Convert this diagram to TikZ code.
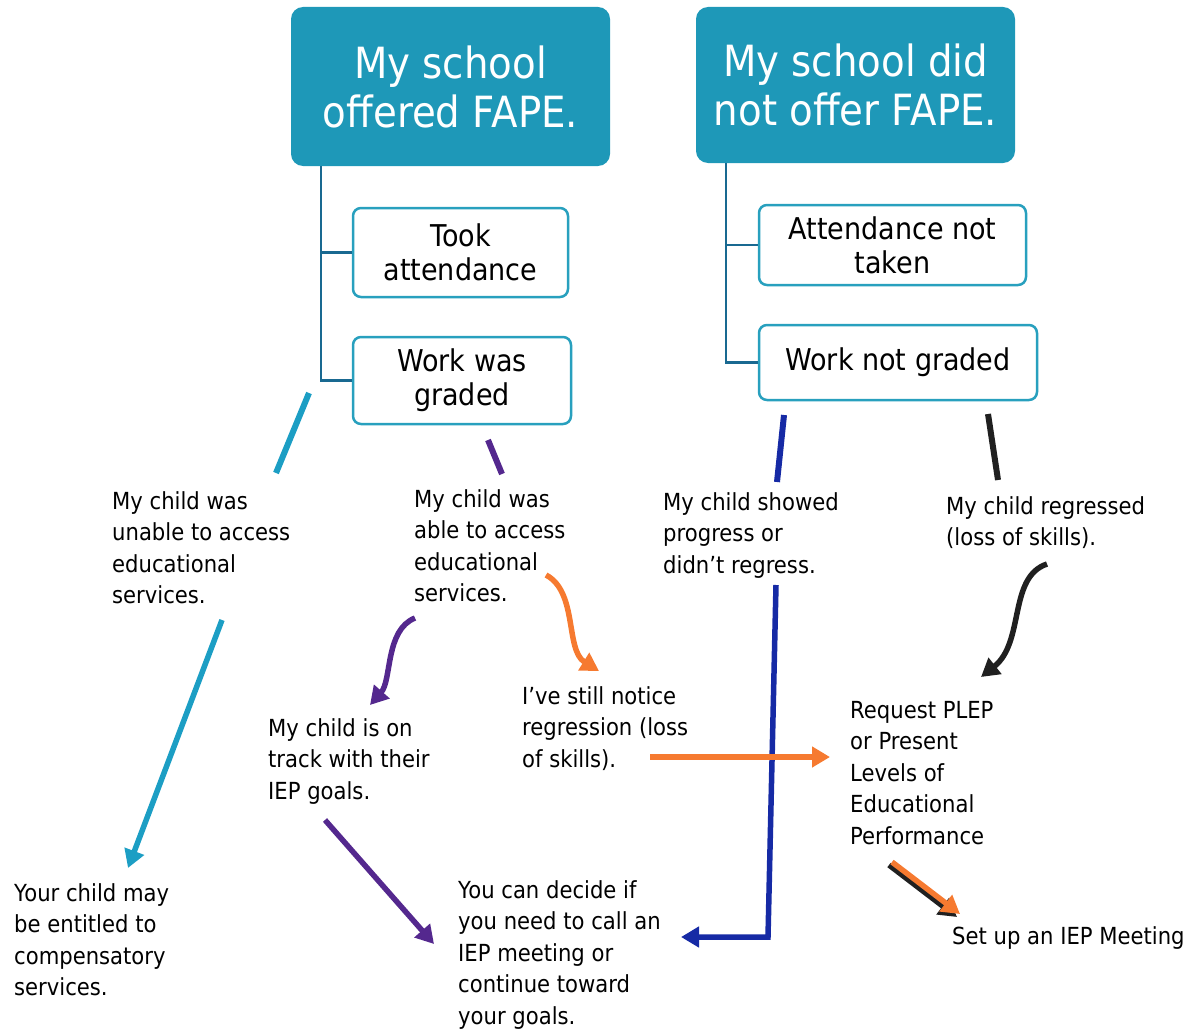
\documentclass[tikz,border=0pt]{standalone}
\usepackage{fontspec}
\setmainfont{DejaVu Sans}[FakeStretch=0.9]
\usetikzlibrary{arrows.meta}

\definecolor{headteal}{RGB}{30,152,184}
\definecolor{boxteal}{RGB}{40,160,190}
\definecolor{treeblue}{RGB}{25,105,145}
\definecolor{lineteal}{RGB}{28,158,196}
\definecolor{linepurple}{RGB}{84,40,142}
\definecolor{lineblue}{RGB}{22,42,165}
\definecolor{lineorange}{RGB}{246,122,48}
\definecolor{lineblack}{RGB}{32,32,32}

\tikzset{
  head/.style={rectangle, rounded corners=12pt, fill=headteal, text=white,
    align=center, minimum width=319pt, font=\fontsize{43}{49}\selectfont},
  check/.style={rectangle, rounded corners=8pt, draw=boxteal, line width=2.5pt,
    fill=white, align=center, font=\fontsize{30}{34}\selectfont},
  txt/.style={anchor=north west, inner sep=0pt, align=left,
    font=\fontsize{23.5}{31.5}\selectfont},
  tree/.style={draw=treeblue, line width=2.5pt},
  stroke/.style={line width=6pt},
  arr/.style={line width=5.5pt, -{Triangle[length=18pt,width=20pt]}},
}

\begin{document}
\begin{tikzpicture}[x=1pt,y=-1pt]
  \useasboundingbox (0,0) rectangle (1191,1030);

  % the two headings
  \node[head, minimum height=159pt] (offer)   at (450.5,86.5) {My school\\offered FAPE.};
  \node[head, minimum height=156pt] (nooffer) at (855.5,85)   {My school did\\not offer FAPE.};

  % what the school did or did not do
  \node[check, minimum width=215pt, minimum height=89pt] (took)      at (460.5,252.5) {Took\\attendance};
  \node[check, minimum width=218pt, minimum height=87pt] (graded)    at (462,380.5)   {Work was\\graded};
  \node[check, minimum width=267pt, minimum height=80pt] (nottaken)  at (892.5,245)   {Attendance not\\taken};
  \node[check, minimum width=278pt, minimum height=75pt] (notgraded) at (898,362.5)   {Work not graded};

  \draw[tree] ([xshift=-129.5pt]offer.south)   |- (took.west);
  \draw[tree] ([xshift=-129.5pt]offer.south)   |- (graded.west);
  \draw[tree] ([xshift=-129.5pt]nooffer.south) |- (nottaken.west);
  \draw[tree] ([xshift=-129.5pt]nooffer.south) |- (notgraded.west);

  % outcomes
  \node[txt] (unable)    at (112,491) {My child was\\unable to access\\educational\\services.};
  \node[txt] (able)      at (414,489) {My child was\\able to access\\educational\\services.};
  \node[txt] (progress)  at (663,492) {My child showed\\progress or\\didn't regress.};
  \node[txt] (regressed) at (946,496) {My child regressed\\(loss of skills).};
  \node[txt] (ontrack)   at (268,718) {My child is on\\track with their\\IEP goals.};
  \node[txt] (notice)    at (522,686) {I've still notice\\regression (loss\\of skills).};
  \node[txt] (plep)      at (850,701) {Request PLEP\\or Present\\Levels of\\Educational\\Performance};
  \node[txt] (comp)      at (14,883)  {Your child may\\be entitled to\\compensatory\\services.};
  \node[txt] (decide)    at (458,880) {You can decide if\\you need to call an\\IEP meeting or\\continue toward\\your goals.};
  \node[txt] (meeting)   at (952,926) {Set up an IEP Meeting};

  % end points of the strokes and arrows
  \coordinate (cyanA)   at (309,393);  \coordinate (cyanB)   at (276,473);
  \coordinate (purpA)   at (488,440);  \coordinate (purpB)   at (502,474);
  \coordinate (blueA)   at (784,415);  \coordinate (blueB)   at (777,482);
  \coordinate (blackA)  at (988,414);  \coordinate (blackB)  at (998,480);
  \coordinate (compA)   at (222,620);  \coordinate (compB)   at (128,868);
  \coordinate (trackA)  at (415,618);  \coordinate (trackB)  at (370,705);
  \coordinate (noticeA) at (546,575);  \coordinate (noticeB) at (599,671);
  \coordinate (regA)    at (1047,564); \coordinate (regB)    at (981,677);
  \coordinate (goalA)   at (325,820);  \coordinate (goalB)   at (434,944);
  \coordinate (plepA)   at (650,757);  \coordinate (plepB)   at (830,757);
  \coordinate (progA)   at (776,585);  \coordinate (progC)   at (768,937);
  \coordinate (progB)   at (681,937);
  \coordinate (meetA)   at (892,862);  \coordinate (meetB)   at (960,914);

  \draw[stroke, lineteal]   (cyanA)  -- (cyanB);
  \draw[stroke, linepurple] (purpA)  -- (purpB);
  \draw[stroke, lineblue]   (blueA)  -- (blueB);
  \draw[stroke, lineblack]  (blackA) -- (blackB);

  \draw[arr, lineteal]   (compA) -- (compB);
  \draw[arr, linepurple] (trackA) .. controls (385,630) and (392,680) .. (trackB);
  \draw[arr, lineorange] (noticeA) .. controls (578,592) and (565,650) .. (noticeB);
  \draw[arr, lineblack]  (regA) .. controls (1008,577) and (1025,642) .. (regB);
  \draw[arr, linepurple] (goalA) -- (goalB);
  \draw[arr, lineblue]   (progA) -- (progC) -- (progB);
  \draw[arr, lineorange] (plepA) -- (plepB);
  \draw[arr, lineblack]  ([shift={(-3pt,-3pt)}]meetA) -- ([shift={(-3pt,-3pt)}]meetB);
  \draw[arr, lineorange] (meetA) -- (meetB);
\end{tikzpicture}
\end{document}
